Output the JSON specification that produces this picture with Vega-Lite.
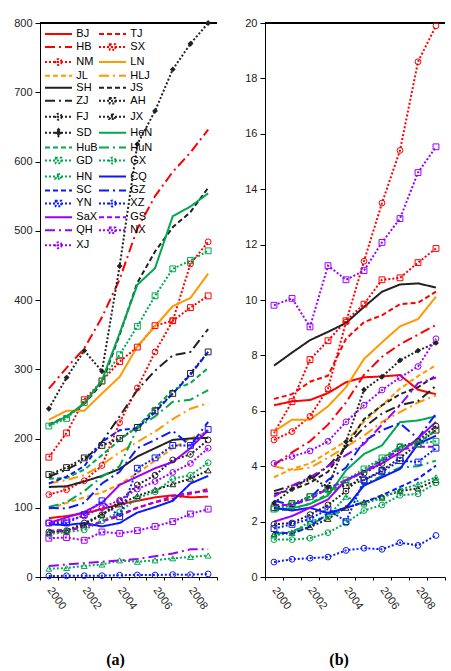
{
"$schema": "https://vega.github.io/schema/vega-lite/v6.json",
"padding": {"left": 13, "top": 17, "right": 0, "bottom": 0},
"background": "white",
"datasets": {"d": [
{"p":"BJ","t":2000,"a":85,"b":6.2},{"p":"BJ","t":2001,"a":88,"b":6.34},{"p":"BJ","t":2002,"a":92,"b":6.39},{"p":"BJ","t":2003,"a":98,"b":6.64},{"p":"BJ","t":2004,"a":105,"b":7.03},{"p":"BJ","t":2005,"a":110,"b":7.21},{"p":"BJ","t":2006,"a":115,"b":7.24},{"p":"BJ","t":2007,"a":118,"b":7.29},{"p":"BJ","t":2008,"a":115,"b":6.76},{"p":"BJ","t":2009,"a":116,"b":6.6},
{"p":"TJ","t":2000,"a":64,"b":6.43},{"p":"TJ","t":2001,"a":67,"b":6.6},{"p":"TJ","t":2002,"a":72,"b":7.05},{"p":"TJ","t":2003,"a":80,"b":7.27},{"p":"TJ","t":2004,"a":88,"b":8.6},{"p":"TJ","t":2005,"a":100,"b":9.2},{"p":"TJ","t":2006,"a":108,"b":9.45},{"p":"TJ","t":2007,"a":113,"b":9.85},{"p":"TJ","t":2008,"a":120,"b":9.9},{"p":"TJ","t":2009,"a":127,"b":10.3},
{"p":"HB","t":2000,"a":272,"b":4.05},{"p":"HB","t":2001,"a":302,"b":4.5},{"p":"HB","t":2002,"a":330,"b":4.9},{"p":"HB","t":2003,"a":375,"b":5.5},{"p":"HB","t":2004,"a":430,"b":6.3},{"p":"HB","t":2005,"a":503,"b":7.3},{"p":"HB","t":2006,"a":550,"b":7.95},{"p":"HB","t":2007,"a":585,"b":8.4},{"p":"HB","t":2008,"a":613,"b":8.75},{"p":"HB","t":2009,"a":646,"b":9.1},
{"p":"SX","t":2000,"a":173,"b":5.2},{"p":"SX","t":2001,"a":208,"b":6.33},{"p":"SX","t":2002,"a":256,"b":7.85},{"p":"SX","t":2003,"a":283,"b":8.53},{"p":"SX","t":2004,"a":311,"b":9.25},{"p":"SX","t":2005,"a":332,"b":9.85},{"p":"SX","t":2006,"a":363,"b":10.73},{"p":"SX","t":2007,"a":370,"b":10.8},{"p":"SX","t":2008,"a":389,"b":11.35},{"p":"SX","t":2009,"a":406,"b":11.86},
{"p":"NM","t":2000,"a":119,"b":4.95},{"p":"NM","t":2001,"a":126,"b":5.25},{"p":"NM","t":2002,"a":139,"b":5.8},{"p":"NM","t":2003,"a":161,"b":6.8},{"p":"NM","t":2004,"a":223,"b":9.2},{"p":"NM","t":2005,"a":273,"b":11.4},{"p":"NM","t":2006,"a":325,"b":13.5},{"p":"NM","t":2007,"a":370,"b":15.4},{"p":"NM","t":2008,"a":452,"b":18.6},{"p":"NM","t":2009,"a":484,"b":19.9},
{"p":"LN","t":2000,"a":227,"b":5.25},{"p":"LN","t":2001,"a":240,"b":5.68},{"p":"LN","t":2002,"a":240,"b":5.68},{"p":"LN","t":2003,"a":265,"b":6.16},{"p":"LN","t":2004,"a":289,"b":6.85},{"p":"LN","t":2005,"a":333,"b":7.87},{"p":"LN","t":2006,"a":362,"b":8.47},{"p":"LN","t":2007,"a":391,"b":9.05},{"p":"LN","t":2008,"a":403,"b":9.31},{"p":"LN","t":2009,"a":438,"b":10.12},
{"p":"JL","t":2000,"a":98,"b":3.6},{"p":"JL","t":2001,"a":107,"b":3.9},{"p":"JL","t":2002,"a":115,"b":4.1},{"p":"JL","t":2003,"a":122,"b":4.5},{"p":"JL","t":2004,"a":134,"b":4.9},{"p":"JL","t":2005,"a":150,"b":5.6},{"p":"JL","t":2006,"a":168,"b":6.2},{"p":"JL","t":2007,"a":186,"b":6.8},{"p":"JL","t":2008,"a":200,"b":7.25},{"p":"JL","t":2009,"a":210,"b":7.65},
{"p":"HLJ","t":2000,"a":135,"b":4.0},{"p":"HLJ","t":2001,"a":140,"b":3.85},{"p":"HLJ","t":2002,"a":147,"b":3.95},{"p":"HLJ","t":2003,"a":162,"b":4.3},{"p":"HLJ","t":2004,"a":180,"b":4.7},{"p":"HLJ","t":2005,"a":195,"b":5.1},{"p":"HLJ","t":2006,"a":210,"b":5.6},{"p":"HLJ","t":2007,"a":228,"b":5.95},{"p":"HLJ","t":2008,"a":243,"b":6.3},{"p":"HLJ","t":2009,"a":251,"b":6.55},
{"p":"SH","t":2000,"a":130,"b":7.63},{"p":"SH","t":2001,"a":131,"b":8.1},{"p":"SH","t":2002,"a":138,"b":8.55},{"p":"SH","t":2003,"a":146,"b":8.85},{"p":"SH","t":2004,"a":156,"b":9.17},{"p":"SH","t":2005,"a":174,"b":9.75},{"p":"SH","t":2006,"a":186,"b":10.3},{"p":"SH","t":2007,"a":198,"b":10.56},{"p":"SH","t":2008,"a":200,"b":10.6},{"p":"SH","t":2009,"a":201,"b":10.45},
{"p":"JS","t":2000,"a":220,"b":3.0},{"p":"JS","t":2001,"a":232,"b":3.15},{"p":"JS","t":2002,"a":250,"b":3.4},{"p":"JS","t":2003,"a":280,"b":3.8},{"p":"JS","t":2004,"a":350,"b":4.7},{"p":"JS","t":2005,"a":425,"b":5.7},{"p":"JS","t":2006,"a":470,"b":6.2},{"p":"JS","t":2007,"a":505,"b":6.6},{"p":"JS","t":2008,"a":527,"b":6.85},{"p":"JS","t":2009,"a":562,"b":7.27},
{"p":"ZJ","t":2000,"a":145,"b":3.1},{"p":"ZJ","t":2001,"a":155,"b":3.3},{"p":"ZJ","t":2002,"a":168,"b":3.5},{"p":"ZJ","t":2003,"a":195,"b":4.0},{"p":"ZJ","t":2004,"a":232,"b":4.7},{"p":"ZJ","t":2005,"a":270,"b":5.4},{"p":"ZJ","t":2006,"a":298,"b":5.9},{"p":"ZJ","t":2007,"a":320,"b":6.2},{"p":"ZJ","t":2008,"a":325,"b":6.35},{"p":"ZJ","t":2009,"a":358,"b":6.9},
{"p":"AH","t":2000,"a":148,"b":2.5},{"p":"AH","t":2001,"a":158,"b":2.65},{"p":"AH","t":2002,"a":172,"b":2.9},{"p":"AH","t":2003,"a":190,"b":3.2},{"p":"AH","t":2004,"a":200,"b":3.3},{"p":"AH","t":2005,"a":216,"b":3.5},{"p":"AH","t":2006,"a":240,"b":3.85},{"p":"AH","t":2007,"a":265,"b":4.3},{"p":"AH","t":2008,"a":294,"b":4.8},{"p":"AH","t":2009,"a":325,"b":5.3},
{"p":"FJ","t":2000,"a":65,"b":1.9},{"p":"FJ","t":2001,"a":67,"b":1.95},{"p":"FJ","t":2002,"a":78,"b":2.25},{"p":"FJ","t":2003,"a":90,"b":2.6},{"p":"FJ","t":2004,"a":109,"b":3.1},{"p":"FJ","t":2005,"a":133,"b":3.75},{"p":"FJ","t":2006,"a":147,"b":4.1},{"p":"FJ","t":2007,"a":169,"b":4.7},{"p":"FJ","t":2008,"a":177,"b":4.9},{"p":"FJ","t":2009,"a":198,"b":5.45},
{"p":"JX","t":2000,"a":64,"b":1.55},{"p":"JX","t":2001,"a":67,"b":1.6},{"p":"JX","t":2002,"a":75,"b":1.8},{"p":"JX","t":2003,"a":90,"b":2.1},{"p":"JX","t":2004,"a":105,"b":2.5},{"p":"JX","t":2005,"a":117,"b":2.7},{"p":"JX","t":2006,"a":126,"b":2.9},{"p":"JX","t":2007,"a":134,"b":3.1},{"p":"JX","t":2008,"a":142,"b":3.2},{"p":"JX","t":2009,"a":154,"b":3.5},
{"p":"SD","t":2000,"a":243,"b":2.67},{"p":"SD","t":2001,"a":288,"b":3.17},{"p":"SD","t":2002,"a":327,"b":3.6},{"p":"SD","t":2003,"a":297,"b":3.25},{"p":"SD","t":2004,"a":449,"b":4.88},{"p":"SD","t":2005,"a":625,"b":6.76},{"p":"SD","t":2006,"a":673,"b":7.23},{"p":"SD","t":2007,"a":733,"b":7.82},{"p":"SD","t":2008,"a":770,"b":8.17},{"p":"SD","t":2009,"a":800,"b":8.45},
{"p":"HeN","t":2000,"a":219,"b":2.44},{"p":"HeN","t":2001,"a":232,"b":2.48},{"p":"HeN","t":2002,"a":250,"b":2.64},{"p":"HeN","t":2003,"a":284,"b":2.94},{"p":"HeN","t":2004,"a":352,"b":3.85},{"p":"HeN","t":2005,"a":422,"b":4.44},{"p":"HeN","t":2006,"a":446,"b":4.75},{"p":"HeN","t":2007,"a":521,"b":5.59},{"p":"HeN","t":2008,"a":535,"b":5.65},{"p":"HeN","t":2009,"a":554,"b":5.8},
{"p":"HuB","t":2000,"a":142,"b":2.4},{"p":"HuB","t":2001,"a":143,"b":2.45},{"p":"HuB","t":2002,"a":155,"b":2.65},{"p":"HuB","t":2003,"a":176,"b":3.0},{"p":"HuB","t":2004,"a":198,"b":3.45},{"p":"HuB","t":2005,"a":217,"b":3.8},{"p":"HuB","t":2006,"a":244,"b":4.25},{"p":"HuB","t":2007,"a":270,"b":4.7},{"p":"HuB","t":2008,"a":280,"b":4.85},{"p":"HuB","t":2009,"a":302,"b":5.3},
{"p":"HuN","t":2000,"a":101,"b":1.55},{"p":"HuN","t":2001,"a":108,"b":1.65},{"p":"HuN","t":2002,"a":124,"b":1.9},{"p":"HuN","t":2003,"a":145,"b":2.2},{"p":"HuN","t":2004,"a":160,"b":2.45},{"p":"HuN","t":2005,"a":215,"b":3.35},{"p":"HuN","t":2006,"a":232,"b":3.65},{"p":"HuN","t":2007,"a":253,"b":3.95},{"p":"HuN","t":2008,"a":256,"b":4.0},{"p":"HuN","t":2009,"a":270,"b":4.2},
{"p":"GD","t":2000,"a":218,"b":2.45},{"p":"GD","t":2001,"a":229,"b":2.6},{"p":"GD","t":2002,"a":252,"b":2.9},{"p":"GD","t":2003,"a":283,"b":3.15},{"p":"GD","t":2004,"a":321,"b":3.5},{"p":"GD","t":2005,"a":362,"b":3.9},{"p":"GD","t":2006,"a":406,"b":4.3},{"p":"GD","t":2007,"a":445,"b":4.7},{"p":"GD","t":2008,"a":457,"b":4.8},{"p":"GD","t":2009,"a":471,"b":4.9},
{"p":"GX","t":2000,"a":62,"b":1.35},{"p":"GX","t":2001,"a":65,"b":1.35},{"p":"GX","t":2002,"a":68,"b":1.4},{"p":"GX","t":2003,"a":81,"b":1.6},{"p":"GX","t":2004,"a":94,"b":1.95},{"p":"GX","t":2005,"a":114,"b":2.4},{"p":"GX","t":2006,"a":123,"b":2.6},{"p":"GX","t":2007,"a":142,"b":2.95},{"p":"GX","t":2008,"a":147,"b":3.0},{"p":"GX","t":2009,"a":165,"b":3.4},
{"p":"HN","t":2000,"a":12,"b":1.5},{"p":"HN","t":2001,"a":13,"b":1.6},{"p":"HN","t":2002,"a":16,"b":2.0},{"p":"HN","t":2003,"a":18,"b":2.2},{"p":"HN","t":2004,"a":24,"b":2.9},{"p":"HN","t":2005,"a":22,"b":2.65},{"p":"HN","t":2006,"a":24,"b":2.85},{"p":"HN","t":2007,"a":27,"b":3.15},{"p":"HN","t":2008,"a":29,"b":3.35},{"p":"HN","t":2009,"a":31,"b":3.6},
{"p":"CQ","t":2000,"a":76,"b":2.5},{"p":"CQ","t":2001,"a":75,"b":2.4},{"p":"CQ","t":2002,"a":78,"b":2.5},{"p":"CQ","t":2003,"a":73,"b":2.3},{"p":"CQ","t":2004,"a":78,"b":2.5},{"p":"CQ","t":2005,"a":93,"b":3.3},{"p":"CQ","t":2006,"a":101,"b":3.6},{"p":"CQ","t":2007,"a":110,"b":3.9},{"p":"CQ","t":2008,"a":135,"b":4.8},{"p":"CQ","t":2009,"a":146,"b":5.1},
{"p":"SC","t":2000,"a":135,"b":1.62},{"p":"SC","t":2001,"a":145,"b":1.56},{"p":"SC","t":2002,"a":160,"b":1.82},{"p":"SC","t":2003,"a":195,"b":2.3},{"p":"SC","t":2004,"a":212,"b":2.5},{"p":"SC","t":2005,"a":215,"b":2.7},{"p":"SC","t":2006,"a":238,"b":2.95},{"p":"SC","t":2007,"a":265,"b":3.25},{"p":"SC","t":2008,"a":292,"b":3.55},{"p":"SC","t":2009,"a":325,"b":4.02},
{"p":"GZ","t":2000,"a":100,"b":2.75},{"p":"GZ","t":2001,"a":99,"b":2.6},{"p":"GZ","t":2002,"a":107,"b":2.85},{"p":"GZ","t":2003,"a":135,"b":3.5},{"p":"GZ","t":2004,"a":152,"b":3.95},{"p":"GZ","t":2005,"a":186,"b":4.9},{"p":"GZ","t":2006,"a":198,"b":5.3},{"p":"GZ","t":2007,"a":211,"b":5.55},{"p":"GZ","t":2008,"a":190,"b":5.0},{"p":"GZ","t":2009,"a":224,"b":5.9},
{"p":"YN","t":2000,"a":78,"b":1.75},{"p":"YN","t":2001,"a":78,"b":1.9},{"p":"YN","t":2002,"a":90,"b":2.1},{"p":"YN","t":2003,"a":110,"b":2.45},{"p":"YN","t":2004,"a":87,"b":2.0},{"p":"YN","t":2005,"a":157,"b":3.5},{"p":"YN","t":2006,"a":172,"b":3.8},{"p":"YN","t":2007,"a":190,"b":4.2},{"p":"YN","t":2008,"a":190,"b":4.15},{"p":"YN","t":2009,"a":213,"b":4.65},
{"p":"XZ","t":2000,"a":1.4,"b":0.54},{"p":"XZ","t":2001,"a":1.7,"b":0.64},{"p":"XZ","t":2002,"a":1.8,"b":0.68},{"p":"XZ","t":2003,"a":1.9,"b":0.72},{"p":"XZ","t":2004,"a":2.6,"b":0.96},{"p":"XZ","t":2005,"a":2.9,"b":1.04},{"p":"XZ","t":2006,"a":2.8,"b":1.0},{"p":"XZ","t":2007,"a":3.5,"b":1.24},{"p":"XZ","t":2008,"a":3.3,"b":1.14},{"p":"XZ","t":2009,"a":4.4,"b":1.5},
{"p":"SaX","t":2000,"a":78,"b":2.0},{"p":"SaX","t":2001,"a":86,"b":2.2},{"p":"SaX","t":2002,"a":94,"b":2.5},{"p":"SaX","t":2003,"a":107,"b":2.8},{"p":"SaX","t":2004,"a":133,"b":3.5},{"p":"SaX","t":2005,"a":145,"b":3.8},{"p":"SaX","t":2006,"a":157,"b":4.1},{"p":"SaX","t":2007,"a":166,"b":4.5},{"p":"SaX","t":2008,"a":186,"b":5.0},{"p":"SaX","t":2009,"a":212,"b":5.6},
{"p":"GS","t":2000,"a":67,"b":2.6},{"p":"GS","t":2001,"a":68,"b":2.6},{"p":"GS","t":2002,"a":72,"b":2.8},{"p":"GS","t":2003,"a":80,"b":3.2},{"p":"GS","t":2004,"a":90,"b":3.5},{"p":"GS","t":2005,"a":100,"b":3.8},{"p":"GS","t":2006,"a":108,"b":4.2},{"p":"GS","t":2007,"a":117,"b":4.6},{"p":"GS","t":2008,"a":122,"b":4.7},{"p":"GS","t":2009,"a":124,"b":4.7},
{"p":"QH","t":2000,"a":16,"b":2.9},{"p":"QH","t":2001,"a":18,"b":3.3},{"p":"QH","t":2002,"a":20,"b":3.6},{"p":"QH","t":2003,"a":22,"b":4.0},{"p":"QH","t":2004,"a":24,"b":4.4},{"p":"QH","t":2005,"a":26,"b":4.8},{"p":"QH","t":2006,"a":30,"b":5.5},{"p":"QH","t":2007,"a":34,"b":6.2},{"p":"QH","t":2008,"a":40,"b":7.0},{"p":"QH","t":2009,"a":40,"b":7.2},
{"p":"NX","t":2000,"a":56,"b":9.81},{"p":"NX","t":2001,"a":57,"b":10.06},{"p":"NX","t":2002,"a":53,"b":9.03},{"p":"NX","t":2003,"a":65,"b":11.24},{"p":"NX","t":2004,"a":63,"b":10.73},{"p":"NX","t":2005,"a":67,"b":11.06},{"p":"NX","t":2006,"a":73,"b":12.08},{"p":"NX","t":2007,"a":80,"b":12.94},{"p":"NX","t":2008,"a":91,"b":14.6},{"p":"NX","t":2009,"a":98,"b":15.53},
{"p":"XJ","t":2000,"a":78,"b":4.1},{"p":"XJ","t":2001,"a":82,"b":4.35},{"p":"XJ","t":2002,"a":88,"b":4.55},{"p":"XJ","t":2003,"a":100,"b":4.9},{"p":"XJ","t":2004,"a":111,"b":5.6},{"p":"XJ","t":2005,"a":127,"b":6.2},{"p":"XJ","t":2006,"a":138,"b":6.75},{"p":"XJ","t":2007,"a":151,"b":7.2},{"p":"XJ","t":2008,"a":164,"b":7.6},{"p":"XJ","t":2009,"a":186,"b":8.6}
]},
"config": {
  "view": {"stroke": null},
  "font": "Liberation Sans",
  "axis": {"labelFont": "Liberation Sans", "labelFontSize": 11, "labelColor": "#222", "domainColor": "#000", "tickColor": "#000", "grid": false},
  "title": {"font": "Liberation Serif", "fontSize": 16, "fontWeight": "bold", "color": "#000"}
},
"resolve": {"scale": {"color": "shared", "strokeDash": "shared", "shape": "shared"}},
"spacing": 26,
"hconcat": [
{
  "width": 177, "height": 554,
  "title": {"text": "(a)", "orient": "bottom", "anchor": "middle", "frame": "bounds", "offset": 41},
  "data": {"name": "d"},
  "layer": [
    {"mark": {"type": "rule", "color": "#000", "strokeWidth": 1},
     "encoding": {"y": {"datum": 800, "type": "quantitative"}}},
    {"mark": {"type": "line", "strokeWidth": 2},
     "encoding": {
       "x": {"field": "t", "type": "ordinal", "bandPosition": 0.5, "title": null, "scale": {"type": "band", "paddingInner": 0, "paddingOuter": 0},
             "axis": {"orient": "bottom", "tickBand": "extent", "tickSize": 3, "labelAngle": 55, "labelAlign": "left", "labelBaseline": "middle", "labelPadding": 8, "labelOverlap": false, "labelExpr": "datum.value % 2 === 0 ? datum.label : ''"}},
       "y": {"field": "a", "type": "quantitative", "title": null, "scale": {"domain": [0, 800], "nice": false},
             "axis": {"values": [0,100,200,300,400,500,600,700,800], "tickSize": 5, "labelPadding": 3}},
       "color": {"field": "p", "type": "nominal",
         "scale": {"domain": ["BJ","TJ","HB","SX","NM","LN","JL","HLJ","SH","JS","ZJ","AH","FJ","JX","SD","HeN","HuB","HuN","GD","GX","HN","CQ","SC","GZ","YN","XZ","SaX","GS","QH","NX","XJ"],
                   "range": ["#FF0000","#FF0000","#FF0000","#FF0000","#FF0000","#FF9900","#FF9900","#FF9900","#222222","#222222","#222222","#222222","#222222","#222222","#222222","#00A84F","#00A84F","#00A84F","#00A84F","#00A84F","#00A84F","#0A1AFF","#0A1AFF","#0A1AFF","#0A1AFF","#0A1AFF","#9B00FF","#9B00FF","#9B00FF","#9B00FF","#9B00FF"]},
         "legend": {"title": null, "orient": "none", "legendX": 12.5, "legendY": 5, "direction": "horizontal", "columns": 2, "symbolLimit": 40, "symbolSize": 100, "symbolStrokeWidth": 2, "labelFont": "Liberation Sans", "labelFontSize": 11, "labelColor": "#000", "labelOffset": 11.8, "rowPadding": 0.95, "columnPadding": -4, "padding": 0, "labelLimit": 60,
           "encode": {"symbols": {"update": {
             "shape": {"signal": "indexof(['SX','AH','GD','YN','NX'],datum.value)>=0 ? 'M-2.7,0H2.7M-0.55,-0.55H0.55V0.55H-0.55Z' : indexof(['NM','FJ','GX','XZ','XJ'],datum.value)>=0 ? 'M-2.7,0H2.7M0.6,0A0.6,0.6,0,1,1,-0.6,0A0.6,0.6,0,1,1,0.6,0Z' : indexof(['JX','HN'],datum.value)>=0 ? 'M-2.7,0H2.7M0,-0.65L0.6,0.45H-0.6Z' : datum.value==='SD' ? 'M-2.7,0H2.7M0,-0.7L0.55,0L0,0.7L-0.55,0Z' : 'M-2.7,0H2.7'"},
             "fill": {"signal": "datum.value==='SD' ? '#222222' : 'transparent'"}}}}}},
       "strokeDash": {"field": "p", "type": "nominal",
         "scale": {"domain": ["BJ","TJ","HB","SX","NM","LN","JL","HLJ","SH","JS","ZJ","AH","FJ","JX","SD","HeN","HuB","HuN","GD","GX","HN","CQ","SC","GZ","YN","XZ","SaX","GS","QH","NX","XJ"],
                   "range": [[1,0],[5,3],[10,4,2,4],[2,2],[2,2],[1,0],[5,3],[10,4,2,4],[1,0],[5,3],[10,4,2,4],[2,2],[2,2],[2,2],[2,2],[1,0],[5,3],[10,4,2,4],[2,2],[2,2],[2,2],[1,0],[5,3],[10,4,2,4],[2,2],[2,2],[1,0],[5,3],[10,4,2,4],[2,2],[2,2]]},
         "legend": {"title": null, "orient": "none", "legendX": 12.5, "legendY": 5, "direction": "horizontal", "columns": 2, "symbolLimit": 40, "symbolSize": 100, "symbolStrokeWidth": 2, "labelFont": "Liberation Sans", "labelFontSize": 11, "labelColor": "#000", "labelOffset": 11.8, "rowPadding": 0.95, "columnPadding": -4, "padding": 0, "labelLimit": 60}}
     }},
    {"transform": [{"filter": {"field": "p", "oneOf": ["SX","NM","AH","FJ","JX","GD","GX","HN","YN","XZ","NX","XJ"]}}],
     "mark": {"type": "point", "filled": false, "strokeWidth": 1, "size": 34, "opacity": 1},
     "encoding": {
       "x": {"field": "t", "type": "ordinal", "bandPosition": 0.5},
       "y": {"field": "a", "type": "quantitative"},
       "color": {"field": "p", "type": "nominal", "legend": null},
       "shape": {"field": "p", "type": "nominal", "legend": null,
         "scale": {"domain": ["SX","NM","AH","FJ","JX","SD","GD","GX","HN","YN","XZ","NX","XJ"], "range": ["square","circle","square","circle","triangle-up","diamond","square","circle","triangle-up","square","circle","square","circle"]}}
     }},
    {"transform": [{"filter": {"field": "p", "equal": "SD"}}],
     "mark": {"type": "point", "filled": true, "shape": "diamond", "size": 34, "opacity": 1, "color": "#222222"},
     "encoding": {
       "x": {"field": "t", "type": "ordinal", "bandPosition": 0.5},
       "y": {"field": "a", "type": "quantitative"}
     }}
  ]
},
{
  "width": 180, "height": 554,
  "title": {"text": "(b)", "orient": "bottom", "anchor": "middle", "frame": "bounds", "offset": 41, "dx": -6},
  "data": {"name": "d"},
  "layer": [
    {"mark": {"type": "rule", "color": "#000", "strokeWidth": 1},
     "encoding": {"y": {"datum": 20, "type": "quantitative"}}},
    {"mark": {"type": "line", "strokeWidth": 2},
     "encoding": {
       "x": {"field": "t", "type": "ordinal", "bandPosition": 0.5, "title": null, "scale": {"type": "band", "paddingInner": 0, "paddingOuter": 0},
             "axis": {"orient": "bottom", "tickBand": "extent", "tickSize": 3, "labelAngle": 55, "labelAlign": "left", "labelBaseline": "middle", "labelPadding": 8, "labelOverlap": false, "labelExpr": "datum.value % 2 === 0 ? datum.label : ''"}},
       "y": {"field": "b", "type": "quantitative", "title": null, "scale": {"domain": [0, 20], "nice": false},
             "axis": {"values": [0,2,4,6,8,10,12,14,16,18,20], "tickSize": 5, "labelPadding": 3}},
       "color": {"field": "p", "type": "nominal", "legend": null},
       "strokeDash": {"field": "p", "type": "nominal", "legend": null}
     }},
    {"transform": [{"filter": {"field": "p", "oneOf": ["SX","NM","AH","FJ","JX","GD","GX","HN","YN","XZ","NX","XJ"]}}],
     "mark": {"type": "point", "filled": false, "strokeWidth": 1, "size": 34, "opacity": 1},
     "encoding": {
       "x": {"field": "t", "type": "ordinal", "bandPosition": 0.5},
       "y": {"field": "b", "type": "quantitative"},
       "color": {"field": "p", "type": "nominal", "legend": null},
       "shape": {"field": "p", "type": "nominal", "legend": null}
     }},
    {"transform": [{"filter": {"field": "p", "equal": "SD"}}],
     "mark": {"type": "point", "filled": true, "shape": "diamond", "size": 34, "opacity": 1, "color": "#222222"},
     "encoding": {
       "x": {"field": "t", "type": "ordinal", "bandPosition": 0.5},
       "y": {"field": "b", "type": "quantitative"}
     }}
  ]
}
]
}
